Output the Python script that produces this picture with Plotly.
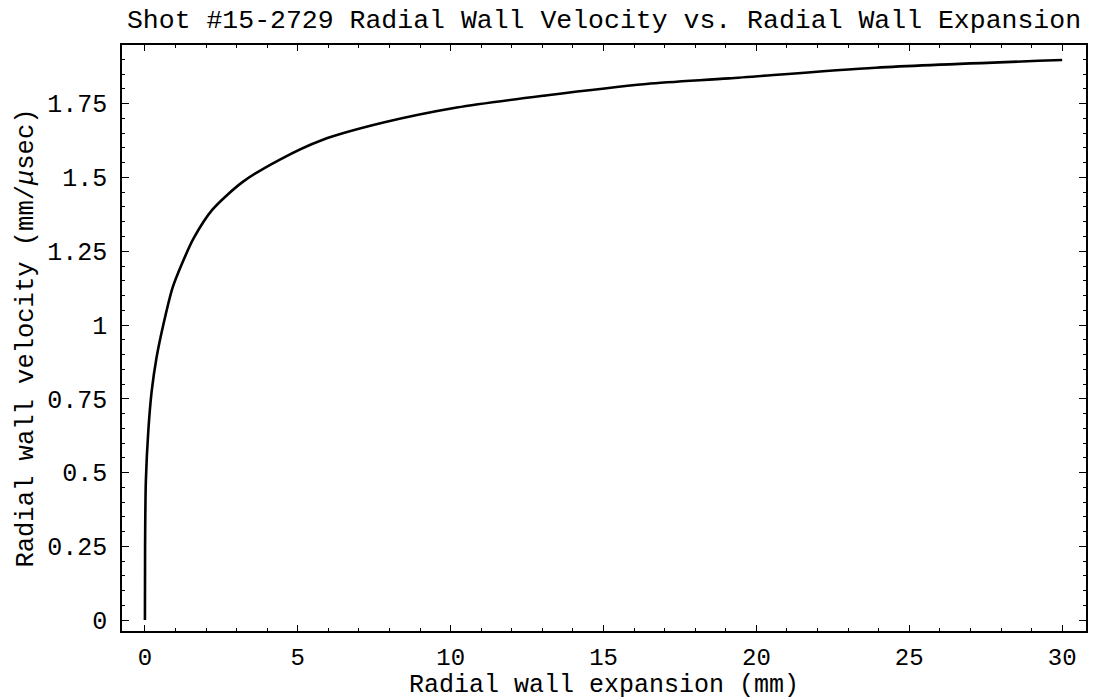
import plotly.graph_objects as go

# Data
expansion_mm = [0, 0.005, 0.03, 0.11, 0.22, 0.38, 0.6, 0.9, 1.2, 1.6, 2.2, 3.2,
                4.4, 5.8, 7.8, 10.2, 13.1, 16.4, 19.1, 23.9, 30]
velocity_mm_us = [0, 0.25, 0.47, 0.64, 0.775, 0.89, 1.0, 1.125, 1.205, 1.295, 1.39,
                  1.485, 1.56, 1.627, 1.686, 1.737, 1.778, 1.817, 1.836, 1.872, 1.898]

x_ticks = [0, 5, 10, 15, 20, 25, 30]
x_ticklabels = ["0", "5", "10", "15", "20", "25", "30"]
y_ticks = [0, 0.25, 0.5, 0.75, 1, 1.25, 1.5, 1.75]
y_ticklabels = ["0", "0.25", "0.5", "0.75", "1", "1.25", "1.5", "1.75"]

FONT = "Liberation Mono, Courier New, monospace"

fig = go.Figure()
fig.add_trace(go.Scatter(
    x=expansion_mm, y=velocity_mm_us, mode="lines",
    line=dict(color="black", width=2.6, shape="spline", smoothing=0.8),
    showlegend=False, hoverinfo="skip",
))

fig.update_layout(
    width=1093, height=700,
    margin=dict(l=122, r=5, t=45, b=66),
    paper_bgcolor="white", plot_bgcolor="white",
    font=dict(family=FONT, size=25, color="black"),
    title=dict(
        text="Shot #15-2729 Radial Wall Velocity vs. Radial Wall Expansion",
        x=0.5, xref="paper", y=1 - 19 / 700, yref="container", yanchor="middle",
        font=dict(family=FONT, size=26.5, color="black"),
    ),
)

fig.update_xaxes(
    range=[-0.75, 30.78], showgrid=False, zeroline=False,
    showline=True, linecolor="black", linewidth=1.6, mirror="allticks",
    ticks="inside", ticklen=6, tickwidth=1.2, tickcolor="black",
    tickvals=x_ticks, ticktext=x_ticklabels, ticklabelstandoff=3,
    tickfont=dict(family=FONT, size=24),
    minor=dict(dtick=1, tick0=0, ticks="inside", ticklen=3.5, tickwidth=1, tickcolor="black", showgrid=False),
    title=dict(text="Radial wall expansion (mm)", standoff=6, font=dict(family=FONT, size=25)),
)
fig.update_yaxes(
    range=[-0.037, 1.949], showgrid=False, zeroline=False,
    showline=True, linecolor="black", linewidth=1.6, mirror="allticks",
    ticks="inside", ticklen=7, tickwidth=1.2, tickcolor="black",
    tickvals=y_ticks, ticktext=y_ticklabels, ticklabelstandoff=8,
    tickfont=dict(family=FONT, size=25),
    minor=dict(dtick=0.05, tick0=0, ticks="inside", ticklen=3.5, tickwidth=1, tickcolor="black", showgrid=False),
    title=dict(text="Radial wall velocity (mm/<i>μ</i>sec)", standoff=6, font=dict(family=FONT, size=25.5)),
)

fig.write_html("out.html")
